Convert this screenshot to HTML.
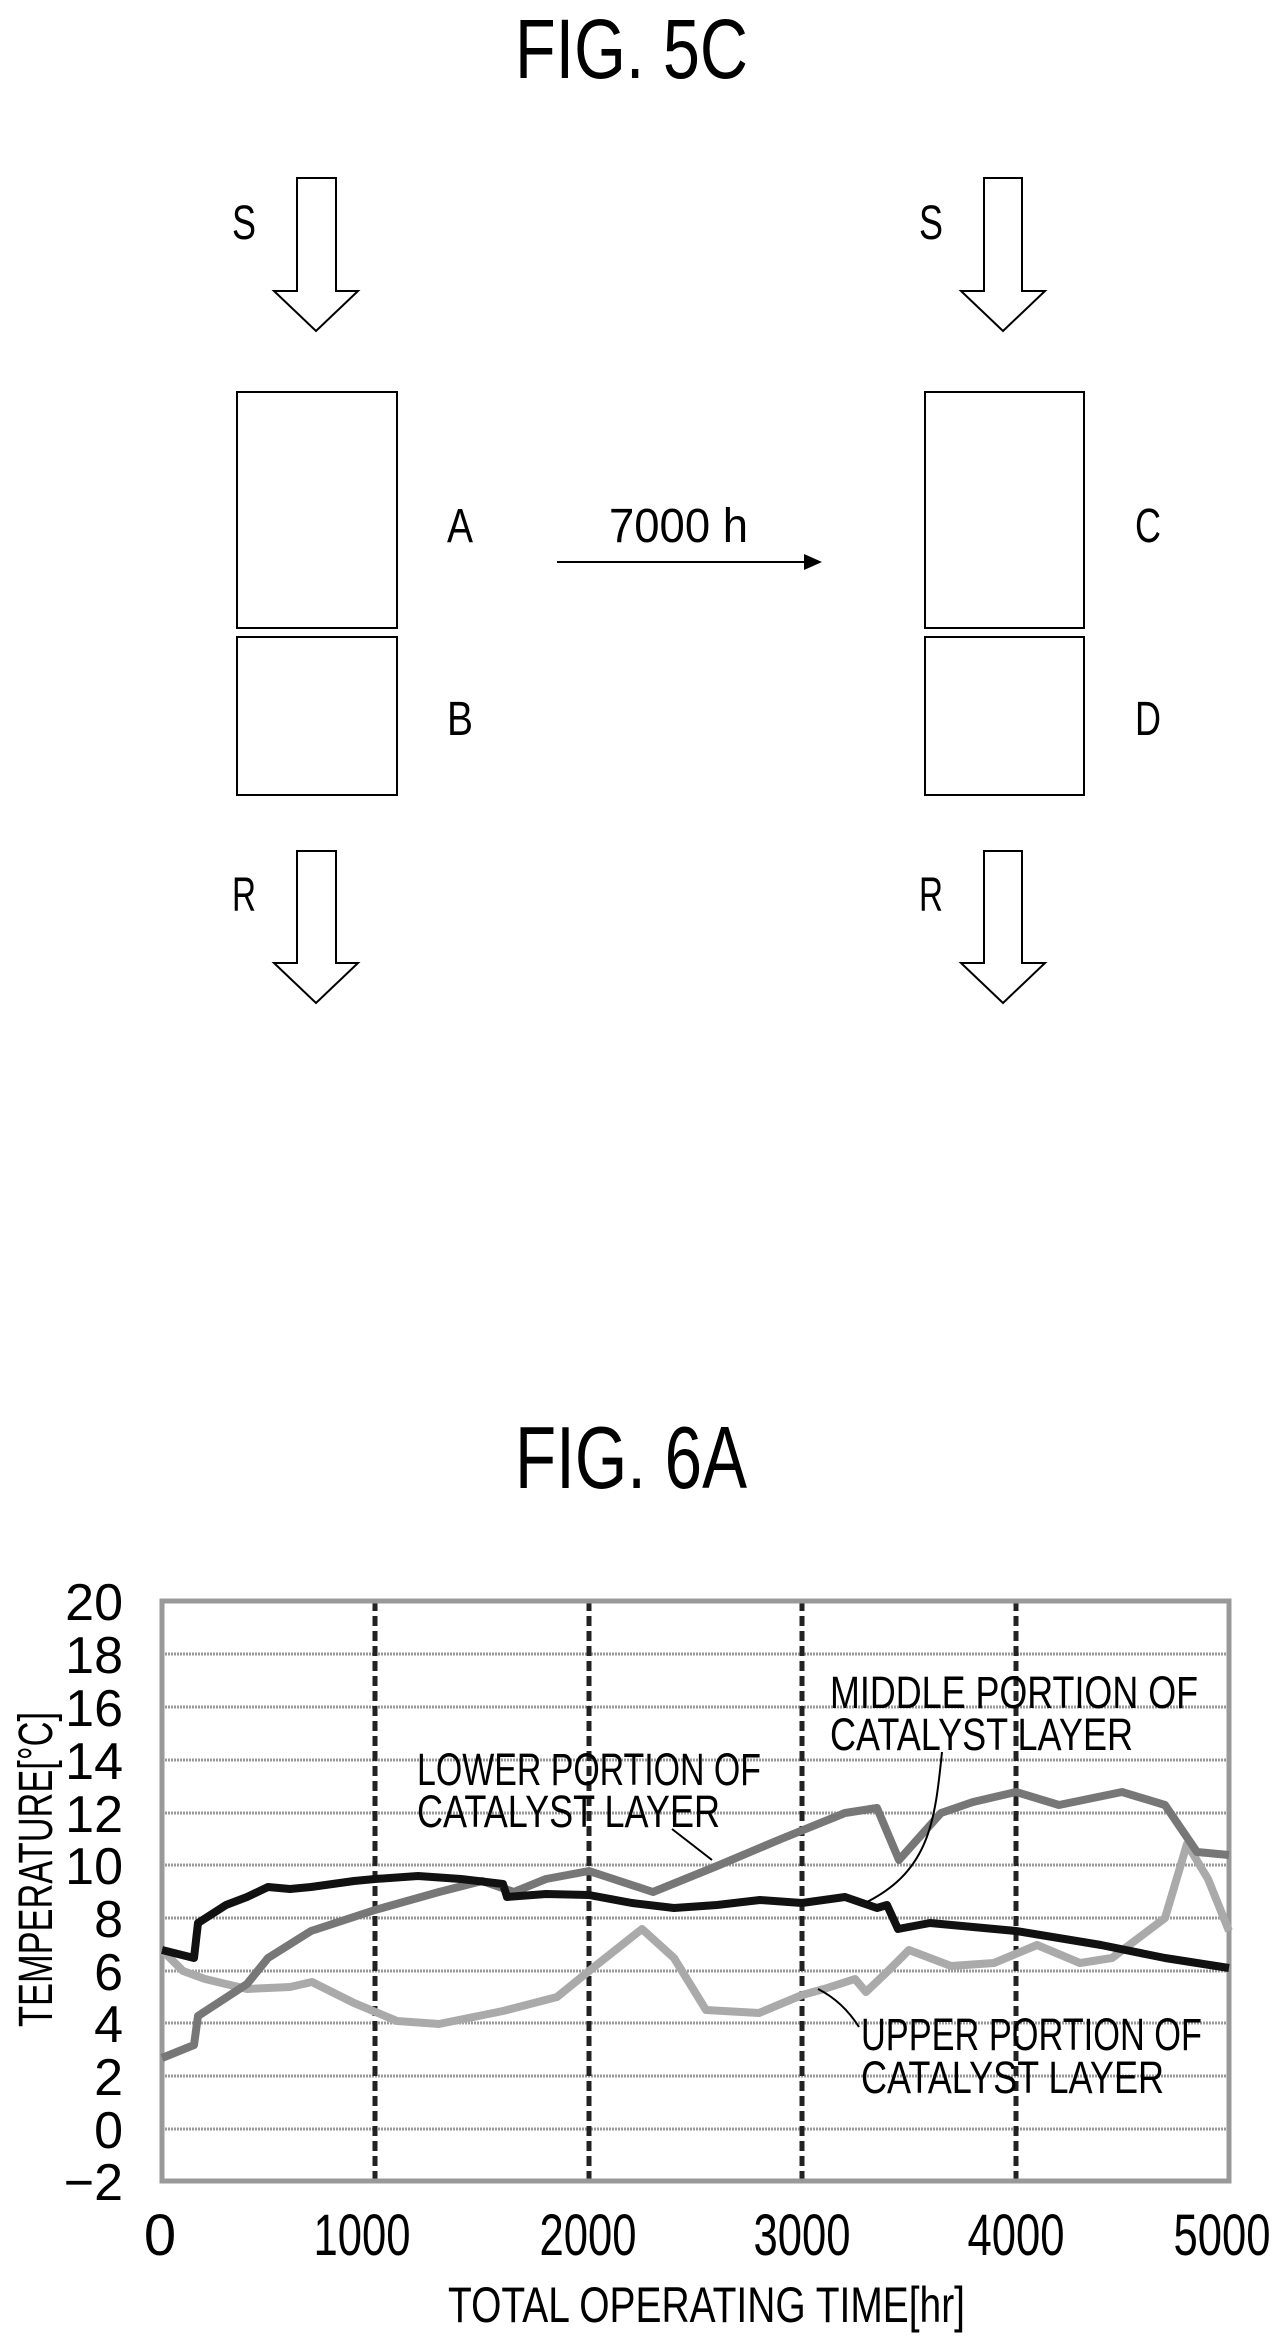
<!DOCTYPE html>
<html><head><meta charset="utf-8"><style>
html,body{margin:0;padding:0;background:#fff}
svg{display:block}
text{font-family:"Liberation Sans",sans-serif;fill:#000}
</style></head><body>
<svg width="1276" height="2339" viewBox="0 0 1276 2339" xmlns="http://www.w3.org/2000/svg">
<!-- FIG 5C -->
<text x="515" y="78" font-size="84" textLength="233" lengthAdjust="spacingAndGlyphs">FIG. 5C</text>
<g fill="none" stroke="#000" stroke-width="2">
<path d="M297,178 H336 V291 H358 L316,331 L274,291 H297 Z"/>
<path d="M984,178 H1022 V291 H1045 L1003,331 L961,291 H984 Z"/>
<path d="M297,851 H336 V963 H358 L316,1003 L274,963 H297 Z"/>
<path d="M984,851 H1022 V963 H1045 L1003,1003 L961,963 H984 Z"/>
<rect x="237" y="392" width="160" height="236"/>
<rect x="237" y="637" width="160" height="158"/>
<rect x="925" y="392" width="159" height="236"/>
<rect x="925" y="637" width="159" height="158"/>
<line x1="557" y1="562" x2="808" y2="562"/>
</g>
<path d="M822,562 L804,554 L804,570 Z" fill="#000"/>
<g font-size="48">
<text x="232" y="239" textLength="24" lengthAdjust="spacingAndGlyphs">S</text>
<text x="919" y="239" textLength="24" lengthAdjust="spacingAndGlyphs">S</text>
<text x="232" y="911" textLength="24" lengthAdjust="spacingAndGlyphs">R</text>
<text x="919" y="911" textLength="24" lengthAdjust="spacingAndGlyphs">R</text>
<text x="447" y="542" textLength="26" lengthAdjust="spacingAndGlyphs">A</text>
<text x="447" y="735" textLength="26" lengthAdjust="spacingAndGlyphs">B</text>
<text x="1135" y="542" textLength="26" lengthAdjust="spacingAndGlyphs">C</text>
<text x="1135" y="735" textLength="26" lengthAdjust="spacingAndGlyphs">D</text>
<text x="609" y="542" textLength="139" lengthAdjust="spacingAndGlyphs">7000 h</text>
</g>
<!-- FIG 6A -->
<text x="515" y="1488" font-size="88" textLength="232" lengthAdjust="spacingAndGlyphs">FIG. 6A</text>
<!-- grid -->
<g stroke="#999" stroke-width="3" stroke-dasharray="2,1">
<line x1="162" x2="1229" y1="1654" y2="1654"/>
<line x1="162" x2="1229" y1="1707" y2="1707"/>
<line x1="162" x2="1229" y1="1760" y2="1760"/>
<line x1="162" x2="1229" y1="1813" y2="1813"/>
<line x1="162" x2="1229" y1="1865" y2="1865"/>
<line x1="162" x2="1229" y1="1918" y2="1918"/>
<line x1="162" x2="1229" y1="1971" y2="1971"/>
<line x1="162" x2="1229" y1="2023" y2="2023"/>
<line x1="162" x2="1229" y1="2076" y2="2076"/>
<line x1="162" x2="1229" y1="2129" y2="2129"/>
</g>
<g stroke="#222" stroke-width="5" stroke-dasharray="10,5">
<line x1="375" x2="375" y1="1601" y2="2181"/>
<line x1="589" x2="589" y1="1601" y2="2181"/>
<line x1="802" x2="802" y1="1601" y2="2181"/>
<line x1="1016" x2="1016" y1="1601" y2="2181"/>
</g>
<rect x="162" y="1601" width="1067" height="580" fill="none" stroke="#999" stroke-width="5"/>
<!-- y labels -->
<g font-size="52" text-anchor="end">
<text x="123" y="1620">20</text>
<text x="123" y="1673">18</text>
<text x="123" y="1726">16</text>
<text x="123" y="1779">14</text>
<text x="123" y="1832">12</text>
<text x="123" y="1884">10</text>
<text x="123" y="1937">8</text>
<text x="123" y="1990">6</text>
<text x="123" y="2042">4</text>
<text x="123" y="2095">2</text>
<text x="123" y="2148">0</text>
<text x="123" y="2200">−2</text>
</g>
<g font-size="58" text-anchor="middle">
<text x="160" y="2255">0</text>
<text x="362" y="2255" textLength="97" lengthAdjust="spacingAndGlyphs">1000</text>
<text x="588" y="2255" textLength="97" lengthAdjust="spacingAndGlyphs">2000</text>
<text x="802" y="2255" textLength="97" lengthAdjust="spacingAndGlyphs">3000</text>
<text x="1016" y="2255" textLength="97" lengthAdjust="spacingAndGlyphs">4000</text>
<text x="1222" y="2255" textLength="97" lengthAdjust="spacingAndGlyphs">5000</text>
</g>
<text x="448" y="2322" font-size="50" textLength="517" lengthAdjust="spacingAndGlyphs">TOTAL OPERATING TIME[hr]</text>
<text transform="translate(52,2027) rotate(-90)" font-size="48" textLength="315" lengthAdjust="spacingAndGlyphs">TEMPERATURE[°C]</text>
<!-- curves -->
<polyline fill="none" stroke="#aaa" stroke-width="8" stroke-linejoin="round" points="
162,1950 183,1971 205,1979 247,1989 290,1987 312,1982 354,2003 397,2021 439,2024 503,2011 557,1997 589,1971 642,1929 674,1958 706,2010 759,2013 802,1995 824,1989 855,1979 866,1992 888,1971 909,1950 951,1966 994,1963 1037,1945 1080,1963 1112,1958 1165,1918 1187,1844 1208,1879 1229,1931"/>
<polyline fill="none" stroke="#777" stroke-width="8" stroke-linejoin="round" points="
162,2058 194,2045 198,2016 247,1984 268,1958 311,1931 375,1910 439,1892 482,1881 514,1892 546,1879 589,1871 653,1892 717,1866 781,1839 845,1813 877,1808 899,1860 941,1813 973,1802 1016,1792 1059,1805 1122,1792 1165,1805 1197,1852 1229,1855"/>
<polyline fill="none" stroke="#111" stroke-width="8" stroke-linejoin="round" points="
162,1950 194,1958 198,1923 226,1905 247,1897 268,1887 290,1889 311,1887 354,1881 375,1879 418,1876 461,1879 503,1884 507,1897 546,1894 589,1895 632,1903 674,1908 717,1905 760,1900 802,1903 845,1897 877,1908 887,1905 898,1929 930,1923 1016,1931 1101,1945 1165,1958 1229,1968"/>
<!-- leaders -->
<g fill="none" stroke="#000" stroke-width="2">
<path d="M942,1752 C935,1820 930,1870 867,1902"/>
<path d="M672,1829 L712,1860"/>
<path d="M859,2027 C845,2005 830,1995 818,1989"/>
</g>
<g font-size="45">
<text x="830" y="1708" textLength="368" lengthAdjust="spacingAndGlyphs">MIDDLE PORTION OF</text>
<text x="830" y="1750" textLength="303" lengthAdjust="spacingAndGlyphs">CATALYST LAYER</text>
<text x="417" y="1785" textLength="344" lengthAdjust="spacingAndGlyphs">LOWER PORTION OF</text>
<text x="417" y="1827" textLength="303" lengthAdjust="spacingAndGlyphs">CATALYST LAYER</text>
<text x="861" y="2050" textLength="341" lengthAdjust="spacingAndGlyphs">UPPER PORTION OF</text>
<text x="861" y="2093" textLength="303" lengthAdjust="spacingAndGlyphs">CATALYST LAYER</text>
</g>
</svg>
</body></html>
